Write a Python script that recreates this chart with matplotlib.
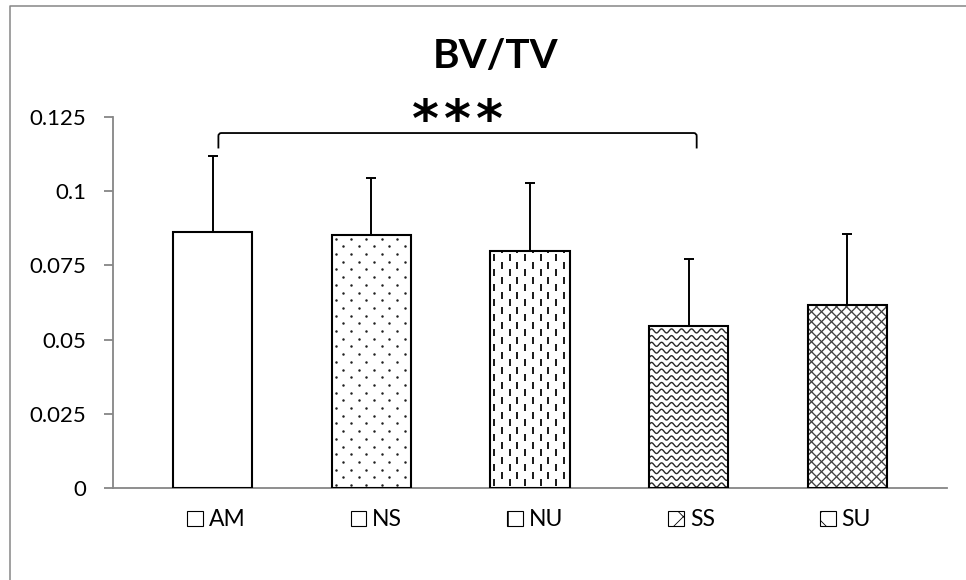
import numpy as np
import matplotlib
matplotlib.use('Agg')
import matplotlib.pyplot as plt
from matplotlib.patches import Patch, PathPatch
from matplotlib.path import Path
from matplotlib.lines import Line2D
from matplotlib.collections import LineCollection

# BV/TV per group (mean and SD)
groups = ['AM', 'NS', 'NU', 'SS', 'SU']
means = [0.0862, 0.0851, 0.0800, 0.0547, 0.0615]
sd = [0.0257, 0.0194, 0.0229, 0.0226, 0.0241]
yticks = [0, 0.025, 0.05, 0.075, 0.1, 0.125]
ytick_labels = ['0', '0.025', '0.05', '0.075', '0.1', '0.125']
fills = ['plain', 'dots', 'dashes', 'waves', 'cross']
legend_hatch = ['', '', '|', 'x', 'x']
sig_pair = (0, 3)
sig_text = '*\u200a*\u200a*'

plt.rcParams['font.family'] = ['Lato', 'DejaVu Sans']
plt.rcParams['hatch.linewidth'] = 0.6

W, H = 966, 580
fig = plt.figure(figsize=(W / 100, H / 100), dpi=100)
ax = fig.add_axes([113 / W, 1 - 488 / H, (947 - 113) / W, (488 - 117) / H])

x = np.arange(len(groups))
ax.set_xlim(-0.627, len(groups) - 1 + 0.627)
ax.set_ylim(0, 0.125)

# data units per pixel, used to size the fill textures
xl, yl = ax.get_xlim(), ax.get_ylim()
pxx = (xl[1] - xl[0]) / (947 - 113)
pxy = (yl[1] - yl[0]) / (488 - 117)

bars = ax.bar(x, means, width=0.5, color='white', edgecolor='none', zorder=2)
ax.bar(x, means, width=0.5, color='none', edgecolor='black', linewidth=1.5, zorder=4)
ax.errorbar(x, means, yerr=[np.zeros(len(sd)), sd], fmt='none', ecolor='black',
            elinewidth=1.4, capsize=3.3, capthick=1.4, zorder=5)


def texture(bar, kind):
    x0, w, h = bar.get_x(), bar.get_width(), bar.get_height()
    wp, hp = w / pxx, h / pxy
    if kind == 'dots':
        px, py = [], []
        for i, yy in enumerate(np.arange(3, hp, 7.7)):
            for xx in np.arange(4 + (i % 2) * 7.7, wp, 15.4):
                px.append(x0 + xx * pxx)
                py.append(yy * pxy)
        sc = ax.scatter(px, py, s=3.2, color='#202020', linewidths=0, zorder=3)
        sc.set_clip_path(bar)
        return
    segs, lw, col = [], 1.0, '#202020'
    if kind == 'dashes':
        for j, xx in enumerate(np.arange(4, wp, 7.7)):
            for yy in np.arange(2 + (j % 2) * 7.5, hp, 15):
                segs.append([(x0 + xx * pxx, yy * pxy), (x0 + xx * pxx, (yy + 7) * pxy)])
        lw, col = 1.4, '#181818'
    elif kind == 'waves':
        t = np.linspace(0, wp, 200)
        for yy in np.arange(3, hp, 6.7):
            segs.append(np.column_stack([x0 + t * pxx,
                                         (yy + 2.0 * np.sin(2 * np.pi * t / 10)) * pxy]))
        lw, col = 1.0, '#282828'
    elif kind == 'cross':
        for c in np.arange(-hp, wp, 10):
            segs.append([(x0 + c * pxx, 0), (x0 + (c + hp) * pxx, h)])
            segs.append([(x0 + (c + hp) * pxx, 0), (x0 + c * pxx, h)])
        lw, col = 0.95, '#404040'
    else:
        return
    lc = LineCollection(segs, colors=col, linewidths=lw, zorder=3)
    ax.add_collection(lc)
    lc.set_clip_path(bar)


for b, kind in zip(bars, fills):
    texture(b, kind)

# significance bracket between AM and SS
xa, xb = sig_pair[0] + 0.037, sig_pair[1] + 0.05
y0, y1 = 0.1144, 0.1196
r = 3
verts = [(xa, y0), (xa, y1 - r * pxy), (xa, y1), (xa + r * pxx, y1),
         (xb - r * pxx, y1), (xb, y1), (xb, y1 - r * pxy), (xb, y0)]
codes = [Path.MOVETO, Path.LINETO, Path.CURVE3, Path.CURVE3,
         Path.LINETO, Path.CURVE3, Path.CURVE3, Path.LINETO]
ax.add_patch(PathPatch(Path(verts, codes), facecolor='none', edgecolor='black',
                       linewidth=1.3, clip_on=False))
ax.text((xa + xb) / 2, 0.1187, sig_text, ha='center', va='baseline', fontsize=37,
        fontweight='bold', family='DejaVu Sans', clip_on=False)

ax.set_yticks(yticks)
ax.set_yticklabels(ytick_labels)
ax.set_xticks([])
ax.tick_params(axis='y', direction='out', length=6.5, width=1.3, color='#868686',
               labelsize=16, pad=13, labelcolor='black')
for s in ['top', 'right']:
    ax.spines[s].set_visible(False)
for s in ['left', 'bottom']:
    ax.spines[s].set_color('#868686')
    ax.spines[s].set_linewidth(1.3)

fig.text(496 / W, 1 - 57 / H, 'BV/TV', ha='center', va='center', fontsize=29,
         fontweight='bold')

handles = [Patch(facecolor='white', edgecolor='black', hatch=h, linewidth=0.8)
           for h in legend_hatch]
fig.legend(handles, groups, loc='center', bbox_to_anchor=(529 / W, 1 - 520 / H),
           ncol=5, frameon=False, fontsize=16.5, handlelength=0.68, handleheight=0.68,
           handletextpad=0.25, columnspacing=4.6, borderpad=0)

# chart area border
fig.add_artist(Line2D([10 / W, 10 / W, 1], [0, 1 - 6 / H, 1 - 6 / H],
                      transform=fig.transFigure, color='#868686', linewidth=1.1))

fig.savefig('out.png', dpi=100)
